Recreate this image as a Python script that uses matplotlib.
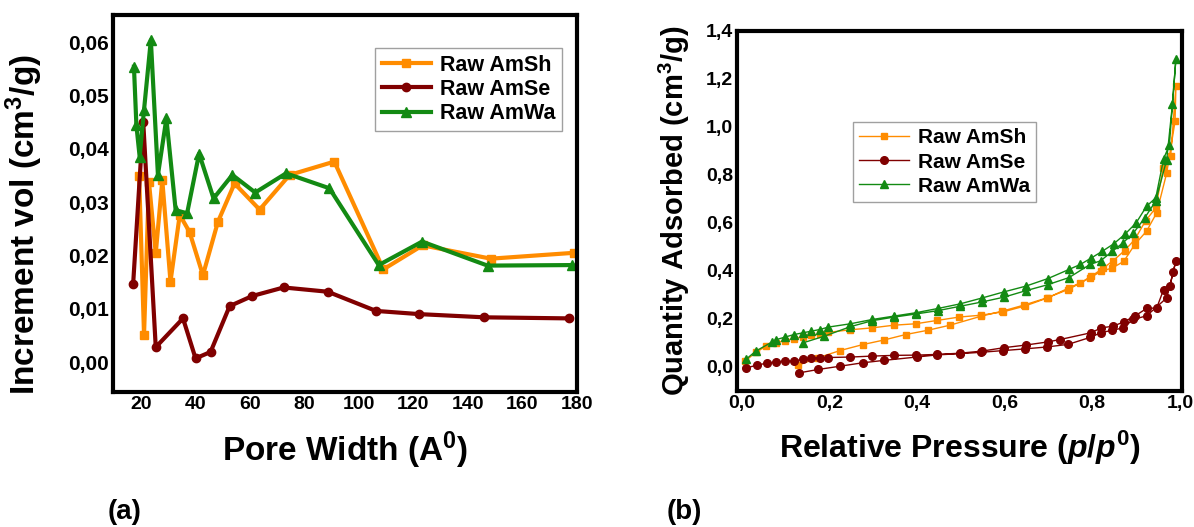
"""
Pore size distribution and N2 isotherms for raw samples
"""

import numpy as np
import matplotlib
matplotlib.use("Agg")
import matplotlib.pyplot as plt
from matplotlib.ticker import FuncFormatter

# ---- (a) pore size distribution
sh_width = [19.4, 21.2, 23.0, 25.5, 27.9, 30.9, 34.3, 37.9, 42.8, 48.3, 54.4, 63.6, 74.6, 91.0, 109.0, 123.4, 148.4, 179.0]
sh_vol = [0.0349, 0.0051, 0.0338, 0.0204, 0.0341, 0.0151, 0.0276, 0.0244, 0.0163, 0.0263, 0.0335, 0.0286, 0.0351, 0.0376, 0.0174, 0.0219, 0.0194, 0.0205]

se_width = [17.2, 20.9, 25.5, 35.5, 40.1, 45.6, 52.6, 60.9, 72.4, 88.6, 106.3, 122.2, 146.0, 177.1]
se_vol = [0.0146, 0.0451, 0.0028, 0.0082, 0.0007, 0.0019, 0.0105, 0.0124, 0.0140, 0.0132, 0.0096, 0.0090, 0.0084, 0.0082]

wa_width = [17.5, 18.4, 19.6, 21.2, 23.7, 26.3, 29.4, 32.8, 37.0, 41.4, 46.7, 53.6, 62.0, 73.3, 89.2, 107.3, 123.2, 147.2, 178.3]
wa_vol = [0.0554, 0.0444, 0.0385, 0.0473, 0.0604, 0.0351, 0.0457, 0.0285, 0.0279, 0.0391, 0.0307, 0.0351, 0.0318, 0.0354, 0.0326, 0.0182, 0.0226, 0.0181, 0.0182]

# ---- (b) isotherms: upper branch then return branch
sh_p = [0.007, 0.032, 0.056, 0.079, 0.098, 0.119, 0.139, 0.158, 0.178, 0.197, 0.248, 0.298, 0.347, 0.397, 0.446, 0.496, 0.547, 0.597, 0.646, 0.698, 0.747, 0.773, 0.798, 0.824, 0.848, 0.874, 0.897, 0.922, 0.945, 0.962, 0.979, 0.991,
        0.989, 0.970, 0.947, 0.924, 0.897, 0.872, 0.846, 0.821, 0.795, 0.745, 0.696, 0.644, 0.595, 0.547, 0.475, 0.425, 0.374, 0.324, 0.276, 0.224, 0.174, 0.129]
sh_q = [0.020, 0.058, 0.084, 0.097, 0.107, 0.115, 0.122, 0.128, 0.134, 0.141, 0.152, 0.160, 0.171, 0.177, 0.191, 0.205, 0.213, 0.227, 0.251, 0.285, 0.327, 0.348, 0.376, 0.408, 0.441, 0.483, 0.529, 0.608, 0.661, 0.828, 0.877, 1.169,
        1.023, 0.807, 0.640, 0.564, 0.508, 0.438, 0.410, 0.397, 0.369, 0.320, 0.285, 0.255, 0.230, 0.209, 0.171, 0.150, 0.132, 0.109, 0.090, 0.065, 0.035, 0.004]

se_p = [0.009, 0.034, 0.058, 0.079, 0.098, 0.119, 0.139, 0.158, 0.178, 0.197, 0.248, 0.298, 0.347, 0.397, 0.446, 0.498, 0.549, 0.598, 0.648, 0.698, 0.726, 0.796, 0.821, 0.848, 0.872, 0.897, 0.924, 0.947, 0.963, 0.977, 0.991,
        0.985, 0.970, 0.924, 0.893, 0.871, 0.846, 0.820, 0.795, 0.745, 0.696, 0.646, 0.597, 0.547, 0.498, 0.446, 0.399, 0.324, 0.276, 0.225, 0.174, 0.131]
se_q = [-0.008, 0.004, 0.013, 0.018, 0.021, 0.021, 0.029, 0.033, 0.035, 0.036, 0.038, 0.042, 0.045, 0.046, 0.049, 0.054, 0.063, 0.077, 0.088, 0.101, 0.111, 0.139, 0.160, 0.167, 0.185, 0.209, 0.241, 0.243, 0.320, 0.334, 0.441,
        0.394, 0.285, 0.210, 0.195, 0.160, 0.150, 0.140, 0.120, 0.091, 0.080, 0.072, 0.065, 0.058, 0.052, 0.047, 0.038, 0.024, 0.014, 0.000, -0.014, -0.028]

wa_p = [0.009, 0.032, 0.068, 0.079, 0.098, 0.119, 0.139, 0.158, 0.178, 0.197, 0.248, 0.298, 0.347, 0.397, 0.448, 0.498, 0.549, 0.598, 0.648, 0.699, 0.747, 0.773, 0.798, 0.823, 0.849, 0.874, 0.900, 0.924, 0.945, 0.963, 0.976, 0.991,
        0.983, 0.970, 0.945, 0.920, 0.894, 0.870, 0.846, 0.819, 0.795, 0.747, 0.698, 0.648, 0.598, 0.548, 0.498, 0.448, 0.398, 0.348, 0.298, 0.248, 0.188, 0.139]
wa_q = [0.028, 0.063, 0.100, 0.111, 0.121, 0.132, 0.139, 0.146, 0.153, 0.163, 0.177, 0.195, 0.209, 0.223, 0.241, 0.260, 0.285, 0.310, 0.334, 0.366, 0.404, 0.425, 0.452, 0.480, 0.511, 0.550, 0.598, 0.668, 0.703, 0.867, 0.923, 1.285,
        1.093, 0.863, 0.690, 0.620, 0.556, 0.515, 0.480, 0.440, 0.425, 0.370, 0.340, 0.315, 0.288, 0.268, 0.250, 0.232, 0.218, 0.205, 0.190, 0.165, 0.125, 0.097]

labels = ["Raw AmSh", "Raw AmSe", "Raw AmWa"]
orange = "#ff8c00"
maroon = "#800000"
green = "#138a13"

matplotlib.rcParams.update({
    "font.family": "Liberation Sans",
    "font.weight": "bold",
    "mathtext.fontset": "custom",
    "mathtext.rm": "Liberation Sans:bold",
    "mathtext.it": "Liberation Sans:italic:bold",
    "mathtext.bf": "Liberation Sans:bold",
})


def comma(ndec):
    return FuncFormatter(lambda v, pos: f"{v:.{ndec}f}".replace(".", ","))


def frame(ax):
    for s in ax.spines.values():
        s.set_linewidth(3)
        s.set_color("black")
    ax.tick_params(length=0, pad=3, labelsize=14)
    for t in ax.get_xticklabels() + ax.get_yticklabels():
        t.set_fontweight("bold")


fig = plt.figure(figsize=(11.94, 5.27), dpi=100)

# ---- (a)
ax1 = fig.add_axes([0.0946, 0.2562, 0.3886, 0.7154])
ax1.plot(sh_width, sh_vol, color=orange, lw=3, marker="s", ms=6, label=labels[0])
ax1.plot(se_width, se_vol, color=maroon, lw=3, marker="o", ms=6, label=labels[1])
ax1.plot(wa_width, wa_vol, color=green, lw=3, marker="^", ms=7, label=labels[2])
ax1.set_xlim(9.8, 180)
ax1.set_ylim(-0.0056, 0.0651)
ax1.set_xticks(np.arange(20, 181, 20))
ax1.set_yticks(np.arange(0, 0.061, 0.01))
ax1.yaxis.set_major_formatter(comma(2))
frame(ax1)
ax1.tick_params(axis="y", labelsize=15)
ax1.set_xlabel("Pore Width (A$^{0}$)", fontsize=24, fontweight="bold", labelpad=12)
ax1.set_ylabel("Increment vol (cm$^{3}$/g)", fontsize=24, fontweight="bold")
ax1.yaxis.set_label_coords(-0.147, 0.443)
leg1 = ax1.legend(loc="upper left", bbox_to_anchor=(0.565, 0.912), fontsize=15.5, frameon=True,
                  fancybox=False, edgecolor="#888888", handlelength=2.3, handletextpad=0.4,
                  borderpad=0.3, labelspacing=0.15, borderaxespad=0)
leg1.get_frame().set_linewidth(1)

# ---- (b)
ax2 = fig.add_axes([0.6173, 0.258, 0.3727, 0.6832])
ax2.plot(sh_p, sh_q, color=orange, lw=1, marker="s", ms=5, label=labels[0])
ax2.plot(se_p, se_q, color=maroon, lw=1, marker="o", ms=5.5, label=labels[1])
ax2.plot(wa_p, wa_q, color=green, lw=1, marker="^", ms=6, label=labels[2])
ax2.set_xlim(-0.011, 1.005)
ax2.set_ylim(-0.104, 1.396)
ax2.set_xticks(np.arange(0, 1.01, 0.2))
ax2.set_yticks(np.arange(0, 1.41, 0.2))
ax2.xaxis.set_major_formatter(comma(1))
ax2.yaxis.set_major_formatter(comma(1))
frame(ax2)
ax2.set_xlabel("Relative Pressure ($\\mathit{p/p^{0}}$)", fontsize=23, fontweight="bold", labelpad=12)
ax2.set_ylabel("Quantity Adsorbed (cm$^{3}$/g)", fontsize=21, fontweight="bold", labelpad=10)
leg2 = ax2.legend(loc="upper left", bbox_to_anchor=(0.261, 0.747), fontsize=15, frameon=True,
                  fancybox=False, edgecolor="#888888", handlelength=2.4, handletextpad=0.4,
                  borderpad=0.3, labelspacing=0.25, borderaxespad=0)
leg2.get_frame().set_linewidth(1)

fig.text(0.0905, 0.015, "(a)", fontsize=20, fontweight="bold")
fig.text(0.5586, 0.015, "(b)", fontsize=20, fontweight="bold")

fig.savefig("out.png", dpi=100, facecolor="white")
